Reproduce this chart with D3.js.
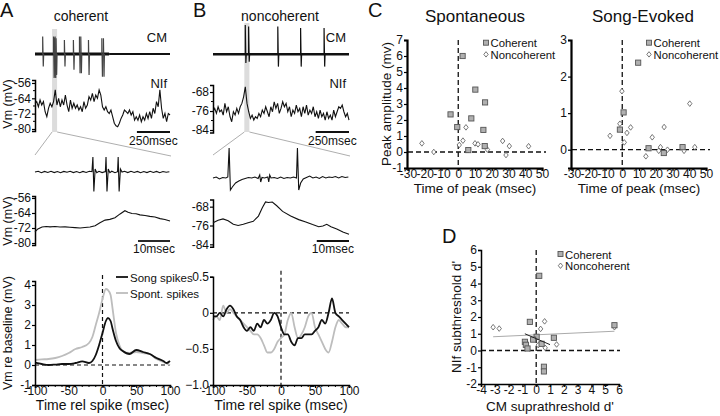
<!DOCTYPE html>
<html lang="en">
<head>
<meta charset="utf-8">
<script src="https://d3js.org/d3.v7.min.js"></script>
<style>
  body { margin: 0; background: #fff; }
  svg { font-family: "Liberation Sans", Arial, sans-serif; }
</style>
</head>
<body>
<script>
// ---------------- data ----------------
// NIf membrane potential, whole song (mV), samples evenly spaced over ~1020 ms
var nifA = [-66.6,-65.7,-68.4,-64.9,-67.5,-65.7,-71,-73.6,-69.2,-66.6,-68.4,-65.7,-59.6,-67.5,-64,-68.4,-64.9,-67.5,-62.3,-67.5,
  -71,-64.9,-69.2,-66.6,-69.2,-67.5,-70.1,-68.4,-71,-65.7,-69.2,-67.5,-63.1,-64.9,-61.4,-65.7,-62.3,-64,-59.6,-62.3,
  -68.4,-70.1,-68.4,-71,-71.9,-70.1,-73.6,-77,-78.3,-78.8,-77,-74.5,-72.7,-70.1,-71,-71.9,-70.1,-72.7,-71,-75.4,
  -73.6,-75.4,-72.7,-76.2,-73.6,-75.4,-71.9,-74.5,-71,-74.5,-69.2,-71.9,-65.7,-68.4,-59.6,-69.2,-74.5,-71.9,-76.2,-71.9,-72.7];
var nifB = [-76.3,-74.9,-77,-74.2,-76.3,-75.6,-77.7,-72.8,-76.3,-74.2,-78.4,-80.5,-76.3,-77.7,-74.9,-77,-74.2,-72.8,-70,-65.8,
  -72.8,-76.3,-79.1,-77.7,-79.8,-78.4,-79.1,-77,-78.4,-75.6,-77,-74.2,-76.3,-78.4,-74.2,-76.3,-72.1,-74.9,-72.8,-77,
  -74.9,-72.1,-74.2,-72.8,-76.3,-74.2,-78.4,-75.6,-77,-73.5,-76.3,-74.9,-78.4,-74.2,-77,-73.5,-77.7,-75.6,-77,-74.2,
  -78.4,-76.3,-79.1,-75.6,-78.4,-77,-79.8,-76.3,-79.1,-77.7,-79.8,-75.6,-78.4,-76.3,-74.2,-74.9,-73.5,-76.3,-78.4,-77,-79.8];

// CM extracellular spikes over the song: time (ms), peak and trough (relative units)
var cmSpikeTimesA = [58, 140, 146, 152, 159, 222, 290, 336, 346, 404, 505, 517];
var cmSpikeUpA    = [1.0, 1.0, 0.95, 1.0, 0.9, 0.8, 0.8, 1.0, 1.0, 0.8, 0.9, 0.9];
var cmSpikeDownA  = [-0.72, -1.38, -1.3, -1.38, -1.2, -0.72, -0.9, -1.1, -1.1, -1.2, -1.3, -1.3];
var cmSpikeTimesB = [242, 267, 486, 657, 833];
var cmSpikeUpB    = [1.0, 0.95, 0.95, 0.9, 0.9];
var cmSpikeDownB  = [-0.3, -0.25, -0.42, -0.42, -0.42];

// expanded 42 ms window: CM trace [ms, value]
var cmZoomA = [[0,0],[1,0.05],[2,-0.05],[3,0.04],[4,-0.03],[5,0.05],[6,-0.04],[7,0.03],[8,-0.05],[9,0.04],[10,-0.02],
  [11,0.05],[12,-0.04],[13,0.03],[14,-0.05],[15,0.04],[16,-0.03],[17,0.05],[17.8,0.02],[18.1,1],[18.4,-1.3],[18.8,0.2],
  [19.3,-0.05],[20,0.05],[21,-0.04],[22,0.03],[22.2,1],[22.5,-1.3],[22.9,0.2],[23.4,-0.05],[24,0.05],[25,-0.05],[25.8,0.02],
  [26.0,1],[26.3,-1.3],[26.7,0.2],[27.2,0],[28,0.05],[29,-0.04],[30,0.05],[31,-0.03],[32,0.04],[33,-0.05],[34,0.03],
  [35,-0.04],[36,0.05],[37,-0.03],[38,0.04],[39,-0.05],[40,0.03],[41,-0.02],[42,0.02]];
var cmZoomB = [[0,0],[1,0.1],[2,-0.1],[3,0.05],[4,0],[4.6,0.1],[5,3],[5.4,-1.2],[6,-0.9],[7,-0.5],[8,-0.3],[9,-0.15],
  [10,-0.05],[11,0.05],[12,0],[13,0.1],[14,-0.05],[14.5,0.3],[14.8,-0.4],[15.2,0.05],[16,0],[17,0.1],[17.3,-0.4],[17.6,0.3],
  [18,0],[19,0.05],[20,-0.05],[21,0.1],[22,-0.05],[23,0.05],[24,0],[25,0.1],[25.9,0],[26.2,3],[26.6,-1.2],[27.2,-0.5],
  [28,-0.1],[29,0.05],[30,0.2],[31,0],[32,0.1],[33,-0.05],[34,0.15],[35,0],[36,0.1],[37,0.05],[38,0.15],[39,0],[40,0.15],
  [41,0.05],[42,0.1]];
// expanded NIf trace [ms, mV]
var nifZoomA = [[0,-74],[0.9,-72.5],[2.2,-71.5],[3.5,-71.2],[4.7,-71.4],[6.3,-71.2],[7.8,-71.5],[9.4,-71.4],[10.9,-71.6],
  [12.5,-71.8],[14.1,-72],[15.6,-71.7],[17.2,-71.5],[18.8,-70.8],[20.3,-69.2],[21.9,-67.8],[23.4,-67.4],[25,-66.5],
  [26.6,-64.5],[28.1,-62.8],[29.1,-63.6],[30.3,-64.3],[31.6,-64.4],[32.8,-65],[34.4,-65.3],[35.9,-65.8],[37.5,-66.1],
  [39.1,-67],[40.6,-67.5],[42.2,-68.3]];
var nifZoomB = [[0,-74.8],[1.6,-73.8],[3.1,-73.2],[4.7,-74],[6.3,-75.5],[7.8,-76],[9.4,-75.5],[10.9,-74.8],[12.5,-74.2],
  [14.1,-72],[15.3,-68.5],[16.3,-66],[17.2,-66.2],[18.4,-66],[19.7,-67.5],[21.6,-70],[24.1,-72],[26.6,-73.5],[28.8,-74.5],
  [30.9,-75.6],[32.8,-76.5],[34.1,-76.2],[35.3,-75.5],[36.6,-76.5],[38.4,-77.5],[40.3,-78.8],[42.2,-79.7]];

// spike-triggered averages (time rel spike, mV re baseline)
var staT = [-100,-90,-80,-70,-60,-50,-40,-30,-20,-15,-10,-5,0,5,8,12,15,20,25,30,40,50,60,70,80,90,95,100];
var staSongA  = [0.12,0.05,0,0.02,0.05,0.05,0.1,0.18,0.1,0.2,0.5,1.0,1.6,2.2,2.35,2.2,1.8,1.2,0.85,0.7,0.55,0.75,0.65,0.55,0.35,0.2,0.1,0.2];
var staSpontA = [0.25,0.28,0.3,0.35,0.45,0.6,0.8,0.9,1.1,1.4,2.0,2.6,3.3,3.8,3.75,3.5,2.8,1.6,1.0,0.7,0.6,0.65,0.6,0.55,0.3,0.15,0.08,0.0];
var staTB = [-100,-95,-90,-85,-80,-75,-70,-65,-60,-55,-50,-45,-40,-35,-30,-25,-20,-15,-10,-5,0,5,10,15,20,25,30,35,40,45,50,55,60,65,70,75,80,85,90,95,100];
var staSongB  = [-0.05,-0.05,0,-0.05,0.05,0.1,0.05,-0.05,-0.1,-0.2,-0.25,-0.2,-0.25,-0.15,-0.2,-0.1,-0.15,-0.1,0,-0.05,-0.2,-0.3,-0.3,-0.4,-0.45,-0.35,-0.35,-0.3,-0.3,-0.3,-0.25,-0.2,-0.1,-0.15,0,0.2,0,-0.05,-0.1,-0.15,-0.2];
var staSpontB = [-0.1,-0.05,-0.1,0.1,0,0.05,0,-0.05,-0.1,-0.15,-0.2,-0.25,-0.3,-0.3,-0.35,-0.45,-0.55,-0.55,-0.5,-0.4,-0.35,-0.3,-0.1,0,-0.2,-0.35,-0.3,-0.2,-0.05,0,-0.2,-0.3,-0.4,-0.5,-0.55,-0.4,-0.2,-0.1,-0.15,-0.2,-0.2];

// panel C: time of peak (ms), peak amplitude (mV)
var spCohX = [2.6,10.2,16,-4.6,7.8,-0.6,15,15.8,6];
var spCohY = [6.0,3.9,3.1,2.35,2.1,1.56,1.38,0.37,0.12];
var spNonX = [-21.7,-14.6,4.6,2.8,0.6,10,11.8,17.4,26.5,30.5,28.5,42];
var spNonY = [0.54,0,1.54,0.71,0.44,0.54,0.48,0.15,0.69,0.37,-0.19,0.36];
var evCohX = [9.5,0.8,-1.4,15.7,24.8,36];
var evCohY = [2.38,1.02,0.55,0.04,-0.09,0.07];
var evNonX = [-0.2,-1.4,-7.3,5,2.8,1.2,17.9,25,14.1,22.8,21.8,27,36,36.9,40.3,43.3];
var evNonY = [1.6,0.71,0.38,0.61,0.46,0.2,0.34,0.62,-0.18,0.07,-0.03,0,0.05,-0.03,1.26,0.07];

// panel D: CM suprathreshold d' vs NIf subthreshold d'
var dCohX = [0.22,-0.46,0.03,1.28,-0.82,-0.22,0.39,-0.75,-0.63,0.56,0.56,5.67];
var dCohY = [4.46,1.71,0.82,0.76,0.52,0.65,0.4,0.34,0.12,-0.97,-1.25,1.51];
var dNonX = [-3.12,-2.68,0.61,0.32,5.67,0.15,1.48,0.65,-0.75];
var dNonY = [1.39,1.31,1.74,1.29,1.39,0.32,0.36,0.16,0.5];
var fitAllX = [-3.12, 5.67], fitAllY = [0.82, 1.15];
var fitCohX = [-0.82, 1.0],  fitCohY = [1.0, 0.35];

// ---------------- drawing ----------------
var W = 720, H = 416;
var svg = d3.select('body').append('svg').attr('width', W).attr('height', H);
svg.append('rect').attr('width', W).attr('height', H).attr('fill', '#fff');

function text(x, y, s, size, anchor, rot) {
  var t = svg.append('text').attr('x', x).attr('y', y).text(s)
    .attr('font-size', size).attr('fill', '#111').attr('text-anchor', anchor || 'start');
  if (rot) t.attr('transform', 'rotate(-90,' + x + ',' + y + ')');
  return t;
}
function hline(x1, x2, y, col, w, dash) {
  return svg.append('line').attr('x1', x1).attr('x2', x2).attr('y1', y).attr('y2', y)
    .attr('stroke', col).attr('stroke-width', w).attr('stroke-dasharray', dash || null);
}
function vline(x, y1, y2, col, w, dash) {
  return svg.append('line').attr('x1', x).attr('x2', x).attr('y1', y1).attr('y2', y2)
    .attr('stroke', col).attr('stroke-width', w).attr('stroke-dasharray', dash || null);
}
function styleAxis(g, w, fs) {
  g.attr('font-family', null).attr('font-size', fs || 12);
  g.select('.domain').attr('stroke', '#000').attr('stroke-width', w || 1.5);
  g.selectAll('.tick line').attr('stroke', '#000').attr('stroke-width', 1.2);
  g.selectAll('.tick text').attr('fill', '#111');
}
function leftAxis(scale, x, vals, fmt, size, w, fs) {
  var g = svg.append('g').attr('transform', 'translate(' + x + ',0)')
    .call(d3.axisLeft(scale).tickValues(vals).tickSize(size || 3).tickPadding(1)
      .tickFormat(fmt || function (d) { return String(d); }));
  styleAxis(g, w, fs);
  return g;
}
function bottomAxis(scale, y, vals, fmt, size, w, fs) {
  var g = svg.append('g').attr('transform', 'translate(0,' + y + ')')
    .call(d3.axisBottom(scale).tickValues(vals).tickSize(size || 3).tickPadding(0)
      .tickFormat(fmt || function (d) { return String(d); }));
  styleAxis(g, w, fs);
  g.selectAll('.tick text').attr('dy', null).attr('y', 10);
  return g;
}
function minorTicksY(scale, x, vals, len) {
  svg.append('g').selectAll('line').data(vals).join('line')
    .attr('x1', x - len).attr('x2', x).attr('y1', scale).attr('y2', scale)
    .attr('stroke', '#000').attr('stroke-width', 1);
}
function minorTicksX(scale, y, vals, len) {
  svg.append('g').selectAll('line').data(vals).join('line')
    .attr('y1', y).attr('y2', y + len).attr('x1', scale).attr('x2', scale)
    .attr('stroke', '#000').attr('stroke-width', 1);
}

// ===== Panel letters & titles =====
text(0, 17, 'A', 20);
text(193, 17, 'B', 20);
text(368, 17, 'C', 20);
text(442, 243, 'D', 20);
text(81, 21, 'coherent', 14, 'middle');
text(280, 21, 'noncoherent', 14, 'middle');

// ===== top traces (A and B) =====
function songPanel(o) {
  var xT = d3.scaleLinear().domain([0, 1020]).range([o.x0, o.x1]);
  var dt = 1020 / (o.nif.length - 1);
  // gray highlight
  svg.append('rect').attr('x', xT(o.win[0])).attr('width', xT(o.win[1]) - xT(o.win[0]))
    .attr('y', o.barTop).attr('height', 132 - o.barTop).attr('fill', '#dcdcdc');
  // CM baseline
  var yC = d3.scaleLinear().domain([-1, 1]).range([o.cmBase + o.cmAmp, o.cmBase - o.cmAmp]);
  o.cmBands.forEach(function (b) {
    hline(xT(b[0]), xT(b[1]), yC(0), '#111', b[2]);
  });
  var sp = o.spT.map(function (t, i) { return { t: t, up: o.spU[i], dn: o.spD[i] }; });
  svg.append('g').selectAll('path').data(sp).join('path')
    .attr('d', function (d) {
      return 'M' + xT(d.t) + ',' + yC(0) + 'L' + xT(d.t) + ',' + yC(d.up) +
        'L' + (xT(d.t) + 0.6) + ',' + yC(d.dn) + 'L' + (xT(d.t) + 1) + ',' + yC(0);
    })
    .attr('fill', 'none').attr('stroke', o.spCol).attr('stroke-width', 1.2);
  // NIf
  var yN = d3.scaleLinear().domain(o.nifDom).range(o.nifRange);
  leftAxis(yN, o.x0, o.nifTicks, null, 3, 1.5);
  minorTicksY(yN, o.x0, o.nifMinor, 2);
  svg.append('path').datum(o.nif)
    .attr('d', d3.line().x(function (d, i) { return xT(i * dt); }).y(yN))
    .attr('fill', 'none').attr('stroke', '#111').attr('stroke-width', 1.1);
  // scale bar 250 ms
  hline(xT(770), xT(1020), 132, '#111', 1.8);
  text((xT(770) + xT(1020)) / 2, 145, '250msec', 12, 'middle');
  text(o.x1 - 3, 42, 'CM', 13, 'end');
  text(o.x1 - 3, 88, 'NIf', 13, 'end');
  // zoom connector lines
  svg.append('line').attr('x1', xT(o.win[0])).attr('y1', 132).attr('x2', o.x0).attr('y2', 155)
    .attr('stroke', '#999').attr('stroke-width', 0.8);
  svg.append('line').attr('x1', xT(o.win[1])).attr('y1', 132).attr('x2', o.x1 + 1).attr('y2', 156)
    .attr('stroke', '#999').attr('stroke-width', 0.8);

  // expanded window
  var xZ = d3.scaleLinear().domain([0, 42.2]).range([o.x0, o.x1]);
  var yZ = d3.scaleLinear().domain([0, 1]).range([o.zBase, o.zBase - o.zAmp]);
  svg.append('path').datum(o.cmZoom)
    .attr('d', d3.line().x(function (d) { return xZ(d[0]); }).y(function (d) { return yZ(d[1]); }))
    .attr('fill', 'none').attr('stroke', '#111').attr('stroke-width', 1.1);
  var yN2 = d3.scaleLinear().domain(o.nif2Dom).range(o.nif2Range);
  leftAxis(yN2, o.x0, o.nifTicks, null, 3, 1.5);
  svg.append('path').datum(o.nifZoom)
    .attr('d', d3.line().x(function (d) { return xZ(d[0]); }).y(function (d) { return yN2(d[1]); }))
    .attr('fill', 'none').attr('stroke', '#111').attr('stroke-width', 1.1);
  hline(xZ(32.2), xZ(42.2), 241, '#111', 1.8);
  text((xZ(32.2) + xZ(42.2)) / 2, 253, '10msec', 12, 'middle');
}

songPanel({
  x0: 35, x1: 170, win: [129, 167], barTop: 29, spCol: '#444',
  cmBase: 54, cmAmp: 17.4, cmBands: [[0, 560, 3.2], [560, 1020, 2]],
  spT: cmSpikeTimesA, spU: cmSpikeUpA, spD: cmSpikeDownA,
  nif: nifA, nifDom: [-81, -54.5], nifRange: [130.9, 80.1],
  nifTicks: [-56, -64, -72, -80], nifMinor: [-60, -68, -76],
  cmZoom: cmZoomA, zBase: 172, zAmp: 15,
  nifZoom: nifZoomA, nif2Dom: [-81, -55], nif2Range: [244.9, 196.1]
});
songPanel({
  x0: 213, x1: 349, win: [235, 273], barTop: 23, spCol: '#111',
  cmBase: 54.3, cmAmp: 29.3, cmBands: [[0, 1020, 2.4]],
  spT: cmSpikeTimesB, spU: cmSpikeUpB, spD: cmSpikeDownB,
  nif: nifB, nifDom: [-85, -65], nifRange: [132.4, 84.9],
  nifTicks: [-68, -76, -84], nifMinor: [-72, -80],
  cmZoom: cmZoomB, zBase: 178, zAmp: 10,
  nifZoom: nifZoomB, nif2Dom: [-85, -65], nif2Range: [246.7, 199.6]
});
text(12, 104, 'Vm (mV)', 12.5, 'middle', true);
text(12, 221, 'Vm (mV)', 12.5, 'middle', true);

// ===== bottom spike-triggered averages =====
function staPanel(o) {
  var x = d3.scaleLinear().domain([-100, 100]).range([o.x0, o.x1]);
  var y = d3.scaleLinear().domain(o.yDom).range([385, o.yTop]);
  hline(o.x0, o.x1, y(0), '#111', 1.2, '4,3');
  vline(x(0), o.yTop - 6, 385, '#111', 1.2, '4,3');
  var line = d3.line().x(function (d, i) { return x(o.t[i]); }).y(y).curve(d3.curveMonotoneX);
  svg.append('path').datum(o.spont).attr('d', line).attr('fill', 'none')
    .attr('stroke', '#bdbdbd').attr('stroke-width', 1.8);
  svg.append('path').datum(o.song).attr('d', line).attr('fill', 'none')
    .attr('stroke', '#111').attr('stroke-width', 1.8);
  leftAxis(y, o.x0, o.yTicks, o.yFmt, 3, 1.5);
  bottomAxis(x, 385, [-100, -50, 0, 50, 100], null, 3, 1.5);
  minorTicksX(x, 385, d3.range(-90, 100, 10).filter(function (v) { return v % 50 !== 0; }), 2);
  text((o.x0 + o.x1) / 2, 410, 'Time rel spike (msec)', 14, 'middle');
}
staPanel({ x0: 35, x1: 170, yDom: [-1, 4.2], yTop: 281, yTicks: [4, 3, 2, 1, 0, -1],
  t: staT, song: staSongA, spont: staSpontA });
staPanel({ x0: 213, x1: 349, yDom: [-1, 0.5], yTop: 276.7, yTicks: [0.5, 0, -0.5, -1],
  yFmt: function (d) { return d === 0 ? '0' : d3.format('.1f')(d); },
  t: staTB, song: staSongB, spont: staSpontB });
text(12, 333, 'Vm re baseline (mV)', 12.5, 'middle', true);
hline(116, 128, 277, '#111', 1.8);
text(130, 281.5, 'Song spikes', 11.5);
hline(116, 128, 293, '#bdbdbd', 1.8);
text(130, 297.5, 'Spont. spikes', 11.5);

// ===== Panel C =====
function markers(gx, gy, xs, ys, kind) {
  var pts = xs.map(function (v, i) { return [gx(v), gy(ys[i])]; });
  var g = svg.append('g');
  if (kind === 'sq') {
    g.selectAll('rect').data(pts).join('rect')
      .attr('x', function (d) { return d[0] - 2.6; }).attr('y', function (d) { return d[1] - 2.6; })
      .attr('width', 5.2).attr('height', 5.2)
      .attr('fill', '#b0b0b0').attr('stroke', '#555').attr('stroke-width', 0.9);
  } else {
    g.selectAll('path').data(pts).join('path')
      .attr('d', function (d) { return 'M' + d[0] + ',' + (d[1] - 2.8) + 'L' + (d[0] + 2.2) + ',' + d[1] +
        'L' + d[0] + ',' + (d[1] + 2.8) + 'L' + (d[0] - 2.2) + ',' + d[1] + 'Z'; })
      .attr('fill', '#fff').attr('stroke', '#555').attr('stroke-width', 0.8);
  }
}
function legend(x, y) {
  svg.append('rect').attr('x', x - 2.5).attr('y', y - 2.5).attr('width', 5).attr('height', 5)
    .attr('fill', '#b0b0b0').attr('stroke', '#555').attr('stroke-width', 0.9);
  text(x + 4.5, y + 4.5, 'Coherent', 11.3);
  svg.append('path').attr('d', 'M' + x + ',' + (y + 9) + 'l2.2,2.7l-2.2,2.7l-2.2,-2.7z')
    .attr('fill', '#fff').attr('stroke', '#555').attr('stroke-width', 0.8);
  text(x + 4.5, y + 16, 'Noncoherent', 11.3);
}
function peakPanel(o) {
  var x = d3.scaleLinear().domain([-30, 50]).range([o.x0, o.x1]);
  var y = d3.scaleLinear().domain(o.yDom).range([168, 40]);
  hline(o.x0, o.x1 + 4, y(0), '#111', 1.3, '5,3');
  vline(x(0), 40, 168, '#111', 1.3, '5,3');
  markers(x, y, o.nx, o.ny, 'di');
  markers(x, y, o.cx, o.cy, 'sq');
  leftAxis(y, o.x0 - 1, o.yTicks, null, 3, 2.2);
  bottomAxis(x, 168, [-30, -20, -10, 0, 10, 20, 30, 40, 50], null, 0, 2.2);
  text((o.x0 + o.x1) / 2, 193, 'Time of peak (msec)', 13.5, 'middle');
  text(o.tx, 22, o.title, 17, 'middle');
  legend(o.lx, 42.7);
}
peakPanel({ x0: 408, x1: 542, yDom: [-1, 7], yTicks: [7, 6, 5, 4, 3, 2, 1, 0, -1],
  cx: spCohX, cy: spCohY, nx: spNonX, ny: spNonY, title: 'Spontaneous', tx: 475, lx: 486 });
peakPanel({ x0: 572, x1: 706, yDom: [-0.5, 3], yTicks: [3, 2, 1, 0],
  cx: evCohX, cy: evCohY, nx: evNonX, ny: evNonY, title: 'Song-Evoked', tx: 643, lx: 649 });
text(391, 104, 'Peak amplitude (mv)', 13.5, 'middle', true);

// ===== Panel D =====
(function () {
  var x = d3.scaleLinear().domain([-4, 6]).range([481, 619]);
  var y = d3.scaleLinear().domain([-2, 6]).range([384, 250]);
  hline(481, 620, y(0), '#111', 1.3, '5,3');
  vline(x(0), 250, 384, '#111', 1.3, '5,3');
  svg.append('line').attr('x1', x(fitAllX[0])).attr('y1', y(fitAllY[0]))
    .attr('x2', x(fitAllX[1])).attr('y2', y(fitAllY[1])).attr('stroke', '#aaa').attr('stroke-width', 1);
  markers(x, y, dNonX, dNonY, 'di');
  markers(x, y, dCohX, dCohY, 'sq');
  svg.append('line').attr('x1', x(fitCohX[0])).attr('y1', y(fitCohY[0]))
    .attr('x2', x(fitCohX[1])).attr('y2', y(fitCohY[1])).attr('stroke', '#222').attr('stroke-width', 1);
  leftAxis(y, 481, [6, 5, 4, 3, 2, 1, 0, -1, -2], null, 3, 1.5);
  bottomAxis(x, 384, [-4, -3, -2, -1, 0, 1, 2, 3, 4, 5, 6], null, 3, 1.5);
  text(550, 411, "CM suprathreshold d'", 13.5, 'middle');
  text(461, 317, "NIf subthreshold d'", 13.5, 'middle', true);
  legend(560.5, 254);
})();
</script>
</body>
</html>
